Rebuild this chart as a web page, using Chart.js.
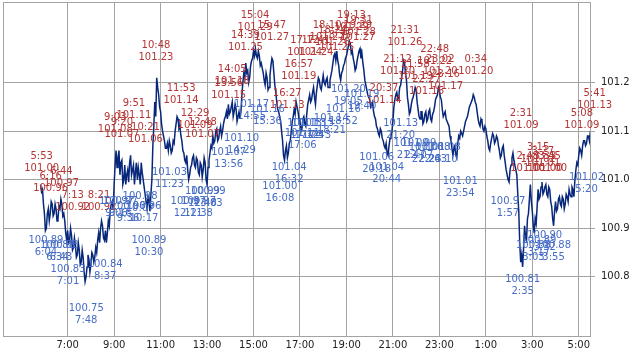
<!DOCTYPE html>
<html>
<head>
<meta charset="utf-8">
<script src="https://cdn.jsdelivr.net/npm/chart.js@4"></script>
<style>
  body { margin: 0; background: #fff; }
  canvas { display: block; }
</style>
</head>
<body>
<canvas id="pressChart" width="638" height="353"></canvas>
<script>
// série de pressão, um valor a cada 5 min a partir de 5:50
const startTime = '5:50';
const stepMin = 5;
const pressure = [
  100.99, 100.98,
  100.93, 100.90, 100.94, 100.93, 100.95, 100.93, 100.94, 100.92, 100.94, 100.95, 100.93, 100.89,
  100.895, 100.875, 100.885, 100.86, 100.865, 100.845, 100.855, 100.83, 100.84, 100.79, 100.82, 100.835,
  100.825, 100.845, 100.84, 100.85, 100.89, 100.90, 100.905, 100.875, 100.87, 100.915, 100.935, 100.955,
  100.99, 101.06, 101.045, 101.01, 101.04, 101.00, 100.99, 101.02, 101.035, 101.01, 101.03, 101.015,
  101.00, 101.01, 101.035, 101.00, 100.97, 100.94, 100.955, 100.97, 101.07, 101.16, 101.21, 101.175,
  101.14, 101.10, 101.08, 101.065, 101.06, 101.07, 101.06, 101.075, 101.115, 101.125, 101.11, 101.08,
  101.055, 101.035, 101.02, 101.01, 101.03, 101.05, 101.025, 101.04, 101.01, 101.03, 101.02, 101.035,
  100.99, 101.04, 101.07, 101.09, 101.08, 101.105, 101.085, 101.11, 101.10, 101.125, 101.14, 101.155,
  101.14, 101.16, 101.14, 101.145, 101.13, 101.125, 101.175, 101.22, 101.24, 101.225, 101.21, 101.245,
  101.265, 101.27, 101.25, 101.255, 101.24, 101.22, 101.195, 101.21, 101.19, 101.235, 101.245, 101.195,
  101.16, 101.14, 101.12, 101.08, 101.04, 101.07, 101.055, 101.08, 101.12, 101.145, 101.16, 101.14,
  101.12, 101.105, 101.13, 101.11, 101.155, 101.175, 101.165, 101.19, 101.155, 101.195, 101.205, 101.185,
  101.215, 101.195, 101.21, 101.19, 101.215, 101.24, 101.26, 101.265, 101.235, 101.205, 101.225, 101.24,
  101.255, 101.275, 101.28, 101.265, 101.24, 101.23, 101.255, 101.27, 101.26, 101.225, 101.195, 101.175,
  101.165, 101.155, 101.14, 101.125, 101.105, 101.09, 101.10, 101.08, 101.065, 101.055, 101.07, 101.09,
  101.12, 101.165, 101.18, 101.17, 101.195, 101.225, 101.24, 101.205, 101.155, 101.14, 101.165, 101.18,
  101.185, 101.145, 101.125, 101.14, 101.12, 101.14, 101.125, 101.145, 101.12, 101.14, 101.165, 101.175,
  101.185, 101.165, 101.13, 101.14, 101.12, 101.11, 101.08, 101.05, 101.07, 101.045, 101.09, 101.10,
  101.09, 101.11, 101.125, 101.14, 101.155, 101.165, 101.17, 101.155, 101.125, 101.11, 101.12, 101.10,
  101.105, 101.08, 101.06, 101.085, 101.09, 101.08, 101.085, 101.06, 101.05, 101.07, 101.035, 101.01,
  100.995, 101.03, 101.055, 101.03, 101.01, 100.935, 100.83, 100.82, 100.905, 100.875, 100.93, 100.99,
  100.935, 100.89, 100.91, 100.98, 100.965, 100.995, 100.975, 100.99, 100.965, 100.98, 100.945, 100.905,
  100.955, 100.94, 100.965, 100.945, 100.96, 100.95, 100.965, 100.98, 100.965, 100.98, 101.00, 101.035,
  101.05, 101.06, 101.07, 101.08, 101.075, 101.09, 101.10, 101.115, 101.135, 101.12, 101.125
];
// leituras intermediárias (2,5 min depois de cada valor acima)
const pressureMid = [
  100.975, 100.95,
  100.895, 100.93, 100.915, 100.955, 100.925, 100.95, 100.915, 100.945, 100.96, 100.925, 100.915, 100.875,
  100.87, 100.90, 100.855, 100.88, 100.84, 100.87, 100.825, 100.855, 100.81, 100.80, 100.845, 100.81,
  100.85, 100.83, 100.86, 100.875, 100.87, 100.915, 100.88, 100.895, 100.89, 100.905, 100.95, 100.94,
  101.03, 101.025, 101.06, 101.035, 100.99, 101.03, 101.01, 100.995, 101.05, 101.02, 100.99, 101.035,
  101.025, 100.99, 101.015, 100.985, 100.955, 100.965, 100.935, 101.00, 101.11, 101.13, 101.19, 101.15,
  101.115, 101.09, 101.065, 101.075, 101.08, 101.055, 101.08, 101.10, 101.13, 101.105, 101.09, 101.06,
  101.04, 101.05, 101.00, 101.025, 101.045, 101.03, 101.045, 101.015, 101.035, 101.005, 101.045, 101.00,
  101.025, 101.055, 101.065, 101.075, 101.10, 101.08, 101.10, 101.09, 101.115, 101.13, 101.125, 101.135,
  101.15, 101.13, 101.155, 101.12, 101.14, 101.14, 101.20, 101.21, 101.22, 101.20, 101.235, 101.25,
  101.255, 101.255, 101.265, 101.235, 101.23, 101.205, 101.22, 101.185, 101.215, 101.25, 101.22, 101.18,
  101.145, 101.13, 101.10, 101.05, 101.06, 101.045, 101.075, 101.10, 101.13, 101.135, 101.15, 101.125,
  101.10, 101.125, 101.115, 101.135, 101.165, 101.16, 101.18, 101.17, 101.18, 101.21, 101.19, 101.20,
  101.20, 101.205, 101.19, 101.205, 101.225, 101.255, 101.245, 101.245, 101.215, 101.22, 101.235, 101.25,
  101.265, 101.285, 101.26, 101.25, 101.225, 101.245, 101.265, 101.25, 101.24, 101.205, 101.185, 101.17,
  101.15, 101.16, 101.13, 101.11, 101.095, 101.105, 101.085, 101.07, 101.075, 101.05, 101.085, 101.10,
  101.15, 101.175, 101.165, 101.19, 101.21, 101.245, 101.22, 101.17, 101.135, 101.155, 101.17, 101.19,
  101.16, 101.13, 101.14, 101.115, 101.135, 101.12, 101.14, 101.125, 101.135, 101.15, 101.17, 101.19,
  101.17, 101.145, 101.135, 101.125, 101.115, 101.09, 101.065, 101.065, 101.05, 101.075, 101.085, 101.095,
  101.10, 101.12, 101.13, 101.15, 101.16, 101.175, 101.16, 101.14, 101.115, 101.125, 101.105, 101.11,
  101.09, 101.065, 101.075, 101.095, 101.075, 101.09, 101.07, 101.045, 101.065, 101.05, 101.02, 101.00,
  101.02, 101.045, 101.04, 101.02, 100.97, 100.87, 100.845, 100.86, 100.88, 100.92, 100.96, 100.955,
  100.905, 100.92, 100.945, 100.96, 100.985, 100.97, 100.985, 100.97, 100.985, 100.955, 100.92, 100.935,
  100.935, 100.96, 100.95, 100.965, 100.94, 100.97, 100.955, 100.97, 100.985, 100.965, 101.02, 101.03,
  101.065, 101.05, 101.08, 101.07, 101.09, 101.08, 101.11, 101.125, 101.11, 101.13
];

// máximas (vermelho) e mínimas (azul)
const highTimes = ['5:53', '6:16', '6:44', '7:13', '8:21', '9:03', '9:20', '9:51', '10:21', '10:48',
  '11:53', '12:29', '12:48', '13:56', '14:05', '14:39', '15:04', '15:47', '16:27', '16:57',
  '17:12', '17:41', '18:10', '18:24', '18:35', '19:13', '19:29', '19:31', '20:37', '21:12',
  '21:31', '21:58', '22:27', '22:48', '23:02', '23:16', '0:34', '2:31', '2:48', '3:15',
  '3:27', '3:33', '3:45', '5:08', '5:41'];
const highValues = [101.00, 100.96, 100.97, 100.92, 100.92, 101.08, 101.07, 101.11, 101.06, 101.23,
  101.14, 101.09, 101.07, 101.15, 101.18, 101.25, 101.29, 101.27, 101.13, 101.19,
  101.24, 101.24, 101.27, 101.26, 101.25, 101.29, 101.27, 101.28, 101.14, 101.20,
  101.26, 101.19, 101.16, 101.22, 101.20, 101.17, 101.20, 101.09, 101.00, 101.02,
  101.01, 101.00, 101.00, 101.09, 101.13];
const lowTimes = ['6:04', '6:34', '6:43', '7:01', '7:48', '8:37', '9:06', '9:16', '9:36', '10:07',
  '10:17', '10:30', '11:23', '12:11', '12:38', '12:48', '13:03', '13:56', '14:29', '14:55',
  '15:36', '16:08', '16:32', '17:06', '17:12', '17:23', '17:43', '18:21', '18:52', '19:05',
  '19:40', '20:18', '20:44', '21:20', '21:47', '22:07', '22:26', '22:43', '23:10', '23:54',
  '1:57', '2:35', '3:03', '3:17', '3:32', '3:55', '5:20'];
const lowValues = [100.89, 100.88, 100.88, 100.83, 100.75, 100.84, 100.97, 100.97, 100.96, 100.98,
  100.96, 100.89, 101.03, 100.97, 100.97, 100.99, 100.99, 101.07, 101.10, 101.17,
  101.16, 101.00, 101.04, 101.11, 101.13, 101.13, 101.13, 101.14, 101.16, 101.20,
  101.19, 101.06, 101.04, 101.13, 101.09, 101.09, 101.08, 101.08, 101.08, 101.01,
  100.97, 100.81, 100.88, 100.89, 100.90, 100.88, 101.02];

const xTicks = ['7:00', '9:00', '11:00', '13:00', '15:00', '17:00', '19:00', '21:00', '23:00', '1:00', '3:00', '5:00'];
const yTicks = [100.8, 100.9, 101.0, 101.1, 101.2];

// hora -> minutos; antes de 5:50 é o dia seguinte
function toMin(s) {
  const p = s.split(':');
  let m = (+p[0]) * 60 + (+p[1]);
  if (m < 350) m += 1440;
  return m;
}
function fmt(m) {
  m = m % 1440;
  return Math.floor(m / 60) + ':' + String(m % 60).padStart(2, '0');
}

const t0 = toMin(startTime);
const points = [];
pressure.forEach((v, i) => {
  points.push({ x: t0 + i * stepMin, y: v });
  if (i < pressureMid.length) points.push({ x: t0 + i * stepMin + stepMin / 2, y: pressureMid[i] });
});

const FONT = '10px "DejaVu Sans"';
const gridColor = '#a3a3a3';

const frame = {
  id: 'frame',
  beforeDatasetsDraw(chart) {
    const a = chart.chartArea, c = chart.ctx;
    c.save();
    c.strokeStyle = gridColor;
    c.lineWidth = 1;
    c.strokeRect(Math.round(a.left) + 0.5, Math.round(a.top) + 0.5, Math.round(a.right - a.left), Math.round(a.bottom - a.top));
    c.restore();
  }
};

const extremes = {
  id: 'extremes',
  afterDatasetsDraw(chart) {
    const c = chart.ctx, xs = chart.scales.x, ys = chart.scales.y;
    c.save();
    c.font = FONT;
    c.textAlign = 'center';
    c.textBaseline = 'middle';
    c.fillStyle = '#b53535';
    highTimes.forEach((t, i) => {
      const px = xs.getPixelForValue(toMin(t));
      const py = ys.getPixelForValue(highValues[i]);
      c.fillText(t, px, py - 23);
      c.fillText(highValues[i].toFixed(2), px, py - 11);
    });
    c.fillStyle = '#456cc6';
    lowTimes.forEach((t, i) => {
      const px = xs.getPixelForValue(toMin(t));
      const py = ys.getPixelForValue(lowValues[i]);
      c.fillText(lowValues[i].toFixed(2), px, py + 7);
      c.fillText(t, px, py + 19);
    });
    c.restore();
  }
};

const ctx = document.getElementById('pressChart').getContext('2d');
new Chart(ctx, {
  type: 'line',
  data: {
    datasets: [{
      data: points,
      borderColor: '#07277a',
      borderWidth: 1.5,
      pointRadius: 0,
      tension: 0,
      fill: false
    }]
  },
  options: {
    responsive: false,
    animation: false,
    devicePixelRatio: 1,
    layout: { padding: { left: 3, top: 2, right: 0, bottom: 0 } },
    plugins: { legend: { display: false }, tooltip: { enabled: false } },
    scales: {
      x: {
        type: 'linear',
        position: 'bottom',
        min: 253,
        max: 1769,
        afterBuildTicks(s) { s.ticks = xTicks.map(t => ({ value: toMin(t) })); },
        afterFit(s) { s.height = 17; s.paddingLeft = 0; s.paddingRight = 0; },
        ticks: {
          callback: v => fmt(v),
          font: { family: 'DejaVu Sans', size: 10 },
          color: '#222',
          padding: 3,
          maxRotation: 0,
          autoSkip: false
        },
        grid: { color: gridColor, drawTicks: false },
        border: { display: false }
      },
      y: {
        position: 'right',
        min: 100.678,
        max: 101.366,
        afterBuildTicks(s) { s.ticks = yTicks.map(v => ({ value: v })); },
        afterFit(s) { s.width = 48; s.paddingTop = 0; s.paddingBottom = 0; },
        ticks: {
          callback: v => v.toFixed(1),
          font: { family: 'DejaVu Sans', size: 10 },
          color: '#222',
          padding: 6
        },
        grid: { color: gridColor, tickLength: 5 },
        border: { display: false }
      }
    }
  },
  plugins: [frame, extremes]
});
</script>
</body>
</html>
